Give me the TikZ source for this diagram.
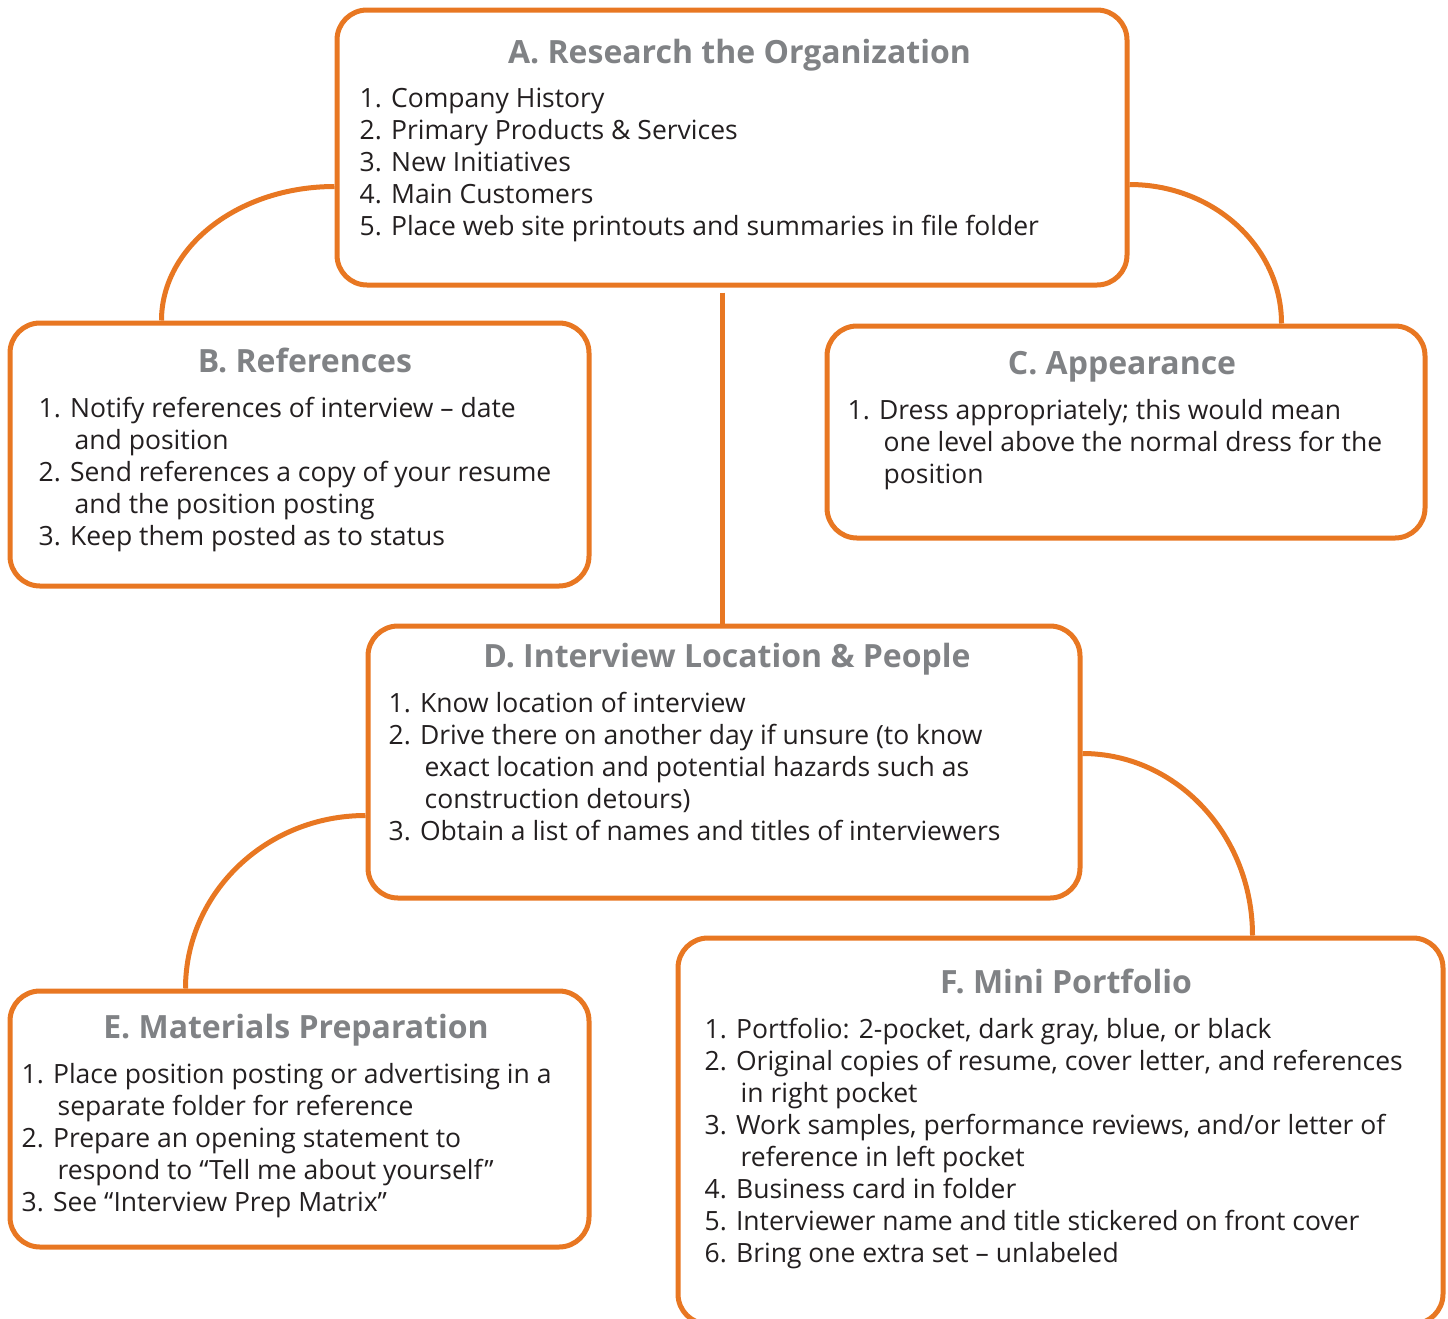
\documentclass[tikz,border=0pt]{standalone}
\usepackage{fontspec}
\setmainfont{Open Sans}
\usetikzlibrary{calc}
\definecolor{orng}{HTML}{E87722}
\definecolor{ttl}{HTML}{808285}
\definecolor{txt}{HTML}{231F20}
\tikzset{
  box/.style={draw=orng, line width=5pt, rounded corners=30pt, inner sep=0pt},
  conn/.style={draw=orng, line width=5pt},
  ttlfont/.style={font=\fontsize{32}{38}\selectfont\bfseries, text=ttl, inner sep=0pt, anchor=base},
  body/.style={font=\fontsize{26.5}{32}\selectfont, text=txt, inner sep=0pt, anchor=base west},
}
\newcommand{\ci}{\hspace*{36pt}}
\begin{document}
\begin{tikzpicture}[x=1pt,y=1pt]
\useasboundingbox (0,0) rectangle (1448,-1318);
% boxes
\node[box, minimum width=790pt, minimum height=275pt] (A) at (732,-147.5) {};
\node[box, minimum width=579pt, minimum height=263pt] (B) at (299.5,-454.5) {};
\node[box, minimum width=598pt, minimum height=212pt] (C) at (1126,-432) {};
\node[box, minimum width=712pt, minimum height=272pt] (D) at (724,-762) {};
\node[box, minimum width=579pt, minimum height=256pt] (E) at (299.5,-1119) {};
\node[box, minimum width=765pt, minimum height=386pt] (F) at (1060.5,-1131) {};
% connectors
\coordinate (a1) at ($(A.north west)+(0,-179)$);
\coordinate (a2) at ($(A.north east)+(0,-177)$);
\coordinate (d1) at ($(D.north west)+(0,-192)$);
\coordinate (d2) at ($(D.north east)+(0,-130)$);
\coordinate (adtop) at ($(A.south)+(-10,-5)$);
\draw[conn] (a1) arc[start angle=90, end angle=180, x radius=173, y radius=134];
\draw[conn] (a2) arc[start angle=90, end angle=0, x radius=152, y radius=139];
\draw[conn] (d1) arc[start angle=90, end angle=180, x radius=180, y radius=173];
\draw[conn] (d2) arc[start angle=90, end angle=0, x radius=170, y radius=182];
\draw[conn] (adtop) -- (adtop |- D.north);
% titles
\node[ttlfont] (At) at ($(A.north)+(7.5,-56)$) {A. Research the Organization};
\node[ttlfont] (Bt) at ($(B.north)+(5.5,-52)$) {B. References};
\node[ttlfont] (Ct) at ($(C.north)+(-4,-51)$) {C. Appearance};
\node[ttlfont] (Dt) at ($(D.north)+(3,-44)$) {D. Interview Location \& People};
\node[ttlfont] (Et) at ($(E.north)+(-3.5,-50)$) {E. Materials Preparation};
\node[ttlfont] (Ft) at ($(F.north)+(5.5,-58)$) {F. Mini Portfolio};
% bodies
\foreach \t [count=\i] in {{1. Company History},{2. Primary Products \& Services},{3. New Initiatives},{4. Main Customers},{5. Place web site printouts and summaries in file folder}}
  \node[body] (A\i) at ($(A.north west)+(25,-100-32*\i+32)$) {\t};
\foreach \t [count=\i] in {{1. Notify references of interview – date},{\ci and position},{2. Send references a copy of your resume},{\ci and the position posting},{3. Keep them posted as to status}}
  \node[body] (B\i) at ($(B.north west)+(31,-97-32*\i+32)$) {\t};
\foreach \t [count=\i] in {{1. Dress appropriately; this would mean},{\ci one level above the normal dress for the},{\ci position}}
  \node[body] (C\i) at ($(C.north west)+(23,-96-32*\i+32)$) {\t};
\foreach \t [count=\i] in {{1. Know location of interview},{2. Drive there on another day if unsure (to know},{\ci exact location and potential hazards such as},{\ci construction detours)},{3. Obtain a list of names and titles of interviewers}}
  \node[body] (D\i) at ($(D.north west)+(23,-89-32*\i+32)$) {\t};
\foreach \t [count=\i] in {{1. Place position posting or advertising in a},{\ci separate folder for reference},{2. Prepare an opening statement to},{\ci respond to “Tell me about yourself”},{3. See “Interview Prep Matrix”}}
  \node[body] (E\i) at ($(E.north west)+(14,-95-32*\i+32)$) {\t};
\foreach \t [count=\i] in {{1. Portfolio: 2-pocket, dark gray, blue, or black},{2. Original copies of resume, cover letter, and references},{\ci in right pocket},{3. Work samples, performance reviews, and/or letter of},{\ci reference in left pocket},{4. Business card in folder},{5. Interviewer name and title stickered on front cover},{6. Bring one extra set – unlabeled}}
  \node[body] (F\i) at ($(F.north west)+(29,-103-32*\i+32)$) {\t};
\end{tikzpicture}
\end{document}
